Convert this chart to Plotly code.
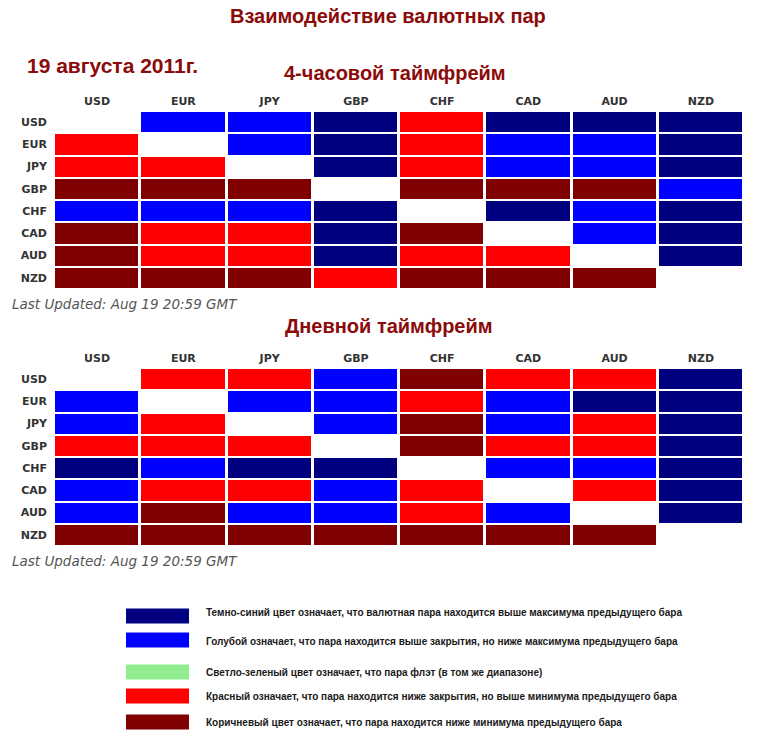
import plotly.graph_objects as go

W, H = 757, 741

currencies = ["USD", "EUR", "JPY", "GBP", "CHF", "CAD", "AUD", "NZD"]

# Codes: 2 = dark blue, 1 = blue, 0 = light green (flat), -1 = red, -2 = brown, None = diagonal
four_hour_usd = [None, 1, 1, 2, -1, 2, 2, 2]
four_hour_eur = [-1, None, 1, 2, -1, 1, 1, 2]
four_hour_jpy = [-1, -1, None, 2, -1, 1, 1, 2]
four_hour_gbp = [-2, -2, -2, None, -2, -2, -2, 1]
four_hour_chf = [1, 1, 1, 2, None, 2, 1, 2]
four_hour_cad = [-2, -1, -1, 2, -2, None, 1, 2]
four_hour_aud = [-2, -1, -1, 2, -1, -1, None, 2]
four_hour_nzd = [-2, -2, -2, -1, -2, -2, -2, None]

daily_usd = [None, -1, -1, 1, -2, -1, -1, 2]
daily_eur = [1, None, 1, 1, -1, 1, 2, 2]
daily_jpy = [1, -1, None, 1, -2, 1, -1, 2]
daily_gbp = [-1, -1, -1, None, -2, -1, -1, 2]
daily_chf = [2, 1, 2, 2, None, 1, 1, 2]
daily_cad = [1, -1, -1, 1, -1, None, -1, 2]
daily_aud = [1, -2, 1, 1, -1, 1, None, 2]
daily_nzd = [-2, -2, -2, -2, -2, -2, -2, None]

four_hour = [four_hour_usd, four_hour_eur, four_hour_jpy, four_hour_gbp,
             four_hour_chf, four_hour_cad, four_hour_aud, four_hour_nzd]
daily = [daily_usd, daily_eur, daily_jpy, daily_gbp,
         daily_chf, daily_cad, daily_aud, daily_nzd]

legend_codes = [2, 1, 0, -1, -2]
legend_texts = [
    "Темно-синий цвет означает, что валютная пара находится выше максимума предыдущего бара",
    "Голубой означает, что пара находится выше закрытия, но ниже максимума предыдущего бара",
    "Светло-зеленый цвет означает, что пара флэт (в том же диапазоне)",
    "Красный означает, что пара находится ниже закрытия, но выше минимума предыдущего бара",
    "Коричневый цвет означает, что пара находится ниже минимума предыдущего бара",
]

NAVY = "#000080"
BLUE = "#0000FF"
GREEN = "#90EE90"
RED = "#FF0000"
BROWN = "#800000"
code_color = {2: NAVY, 1: BLUE, 0: GREEN, -1: RED, -2: BROWN}

colorscale = [[0.0, BROWN], [0.2, BROWN], [0.2, RED], [0.4, RED],
              [0.4, GREEN], [0.6, GREEN], [0.6, BLUE], [0.8, BLUE],
              [0.8, NAVY], [1.0, NAVY]]

TITLE_COLOR = "#8B0A0A"


def px_y(py):
    return 1 - py / H


def px_x(px):
    return px / W


fig = go.Figure()

for i, (mat, top, bottom) in enumerate([(four_hour, 111, 289), (daily, 368, 546)]):
    xa = "x" if i == 0 else "x2"
    ya = "y" if i == 0 else "y2"
    fig.add_trace(go.Heatmap(
        z=mat, x=currencies, y=currencies,
        colorscale=colorscale, zmin=-2.5, zmax=2.5,
        showscale=False, xgap=3, ygap=2, hoverongaps=False,
        xaxis=xa, yaxis=ya,
    ))
    axis_font = dict(family="DejaVu Sans", size=11, color="#333333", weight="bold")
    xdef = dict(domain=[px_x(54), px_x(744)], side="top", showgrid=False,
                zeroline=False, showline=False, ticks="", tickfont=axis_font,
                ticklabelstandoff=3, fixedrange=True, anchor=ya)
    ydef = dict(domain=[px_y(bottom), px_y(top)], autorange="reversed",
                showgrid=False, zeroline=False, showline=False, ticks="",
                tickfont=axis_font, ticklabelstandoff=6, fixedrange=True, anchor=xa)
    if i == 0:
        fig.update_layout(xaxis=xdef, yaxis=ydef)
    else:
        fig.update_layout(xaxis2=xdef, yaxis2=ydef)

annotations = [
    dict(text="<b>Взаимодействие валютных пар</b>", x=px_x(388), y=px_y(16),
         xanchor="center", yanchor="middle", font=dict(family="Liberation Sans", size=20, color=TITLE_COLOR)),
    dict(text="<b>19 августа 2011г.</b>", x=px_x(25), y=px_y(65),
         xanchor="left", yanchor="middle", font=dict(family="Liberation Sans", size=21, color=TITLE_COLOR)),
    dict(text="<b>4-часовой таймфрейм</b>", x=px_x(395), y=px_y(73),
         xanchor="center", yanchor="middle", font=dict(family="Liberation Sans", size=20, color=TITLE_COLOR)),
    dict(text="<b>Дневной таймфрейм</b>", x=px_x(389), y=px_y(326),
         xanchor="center", yanchor="middle", font=dict(family="Liberation Sans", size=20, color=TITLE_COLOR)),
    dict(text="<i>Last Updated: Aug 19 20:59 GMT</i>", x=px_x(10), y=px_y(304),
         xanchor="left", yanchor="middle", font=dict(family="DejaVu Sans", size=13.5, color="#555555")),
    dict(text="<i>Last Updated: Aug 19 20:59 GMT</i>", x=px_x(10), y=px_y(561),
         xanchor="left", yanchor="middle", font=dict(family="DejaVu Sans", size=13.5, color="#555555")),
]

shapes = []
legend_y = [616, 640, 672, 696, 722]
text_y = [612, 641, 672, 696, 722]
for code, text, cy, ty in zip(legend_codes, legend_texts, legend_y, text_y):
    shapes.append(dict(type="rect", xref="paper", yref="paper",
                       x0=px_x(126), x1=px_x(189), y0=px_y(cy + 7.5), y1=px_y(cy - 7.5),
                       fillcolor=code_color[code], line=dict(width=0)))
    annotations.append(dict(text="<b>" + text + "</b>", x=px_x(204), y=px_y(ty), xanchor="left", yanchor="middle",
                            font=dict(family="Liberation Sans", size=10, color="#1a1a1a")))

for a in annotations:
    a.update(xref="paper", yref="paper", showarrow=False)

fig.update_layout(
    width=W, height=H, margin=dict(l=0, r=0, t=0, b=0),
    paper_bgcolor="white", plot_bgcolor="white",
    annotations=annotations, shapes=shapes, showlegend=False,
)

fig.write_html("out.html", config={"displayModeBar": False},
               post_script="document.body.style.margin='0px';document.body.style.padding='0px';")
